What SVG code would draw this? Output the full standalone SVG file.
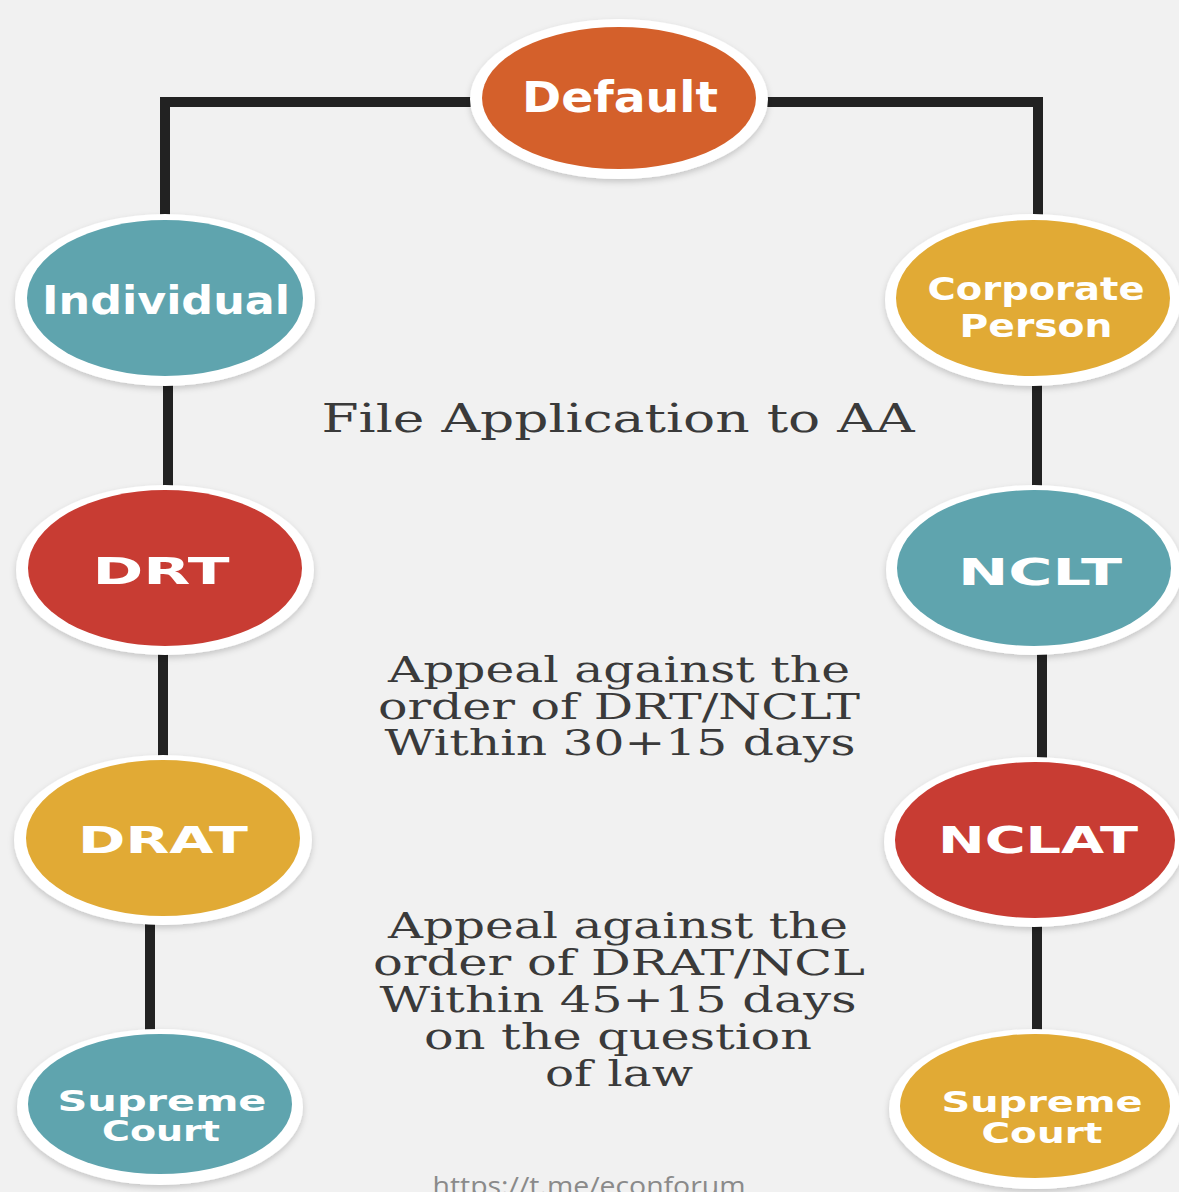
<svg xmlns="http://www.w3.org/2000/svg" width="1179" height="1192" viewBox="0 0 1179 1192">
<defs>
<filter id="sh" x="-10%" y="-10%" width="120%" height="125%">
<feDropShadow dx="0" dy="3" stdDeviation="3" flood-color="#000" flood-opacity="0.18"/>
</filter>
</defs>
<style>
.ring{fill:#ffffff;filter:url(#sh)}
.lbl{font-family:"DejaVu Sans","Liberation Sans",sans-serif;font-weight:bold;fill:#ffffff;text-anchor:middle}
.note{font-family:"DejaVu Serif","Liberation Serif",serif;fill:#3a3a3a;text-anchor:middle}
.conn line,.conn polyline{stroke:#222222;stroke-width:10;fill:none}
.orange{fill:#D4602B}.teal{fill:#5FA4AE}.red{fill:#C83C33}.gold{fill:#E1AA35}
</style>
<rect width="1179" height="1192" fill="#F1F1F1"/>
<g id="connectors" class="conn">
<polyline points="165,225 165,102 480,102"/>
<polyline points="760,102 1038,102 1038,225"/>
<line x1="168" y1="380" x2="168" y2="492"/>
<line x1="163" y1="648" x2="163" y2="762"/>
<line x1="150" y1="918" x2="150" y2="1040"/>
<line x1="1037" y1="380" x2="1037" y2="492"/>
<line x1="1042" y1="648" x2="1042" y2="762"/>
<line x1="1037" y1="918" x2="1037" y2="1040"/>
</g>
<g id="default">
<ellipse class="ring" cx="619" cy="99" rx="149" ry="80"/>
<ellipse class="orange" cx="619" cy="98" rx="137" ry="71"/>
<text class="lbl" x="620" y="112" font-size="43" textLength="196" lengthAdjust="spacingAndGlyphs">Default</text>
</g>
<g id="individual">
<ellipse class="ring" cx="165" cy="300" rx="150" ry="86"/>
<ellipse class="teal" cx="165" cy="298" rx="138" ry="78"/>
<text class="lbl" x="166" y="314" font-size="39" textLength="248" lengthAdjust="spacingAndGlyphs">Individual</text>
</g>
<g id="corporate">
<ellipse class="ring" cx="1033" cy="300" rx="148" ry="86"/>
<ellipse class="gold" cx="1033" cy="298" rx="137" ry="78"/>
<text class="lbl" x="1036" y="300" font-size="32" textLength="217" lengthAdjust="spacingAndGlyphs">Corporate</text>
<text class="lbl" x="1036" y="337" font-size="32" textLength="153" lengthAdjust="spacingAndGlyphs">Person</text>
</g>
<g id="drt">
<ellipse class="ring" cx="165" cy="570" rx="149" ry="85"/>
<ellipse class="red" cx="165" cy="568" rx="137" ry="78"/>
<text class="lbl" x="161" y="584" font-size="38" textLength="137" lengthAdjust="spacingAndGlyphs">DRT</text>
</g>
<g id="nclt">
<ellipse class="ring" cx="1034" cy="570" rx="148" ry="85"/>
<ellipse class="teal" cx="1034" cy="568" rx="137" ry="78"/>
<text class="lbl" x="1040" y="585" font-size="38" textLength="164" lengthAdjust="spacingAndGlyphs">NCLT</text>
</g>
<g id="drat">
<ellipse class="ring" cx="163" cy="840" rx="149" ry="85"/>
<ellipse class="gold" cx="163" cy="838" rx="137" ry="78"/>
<text class="lbl" x="163" y="853" font-size="38" textLength="170" lengthAdjust="spacingAndGlyphs">DRAT</text>
</g>
<g id="nclat">
<ellipse class="ring" cx="1034" cy="842" rx="150" ry="85"/>
<ellipse class="red" cx="1035" cy="840" rx="140" ry="78"/>
<text class="lbl" x="1038" y="853" font-size="38" textLength="200" lengthAdjust="spacingAndGlyphs">NCLAT</text>
</g>
<g id="sc-left">
<ellipse class="ring" cx="160" cy="1107" rx="143" ry="78"/>
<ellipse class="teal" cx="160" cy="1104" rx="132" ry="70"/>
<text class="lbl" x="162" y="1111" font-size="28" textLength="209" lengthAdjust="spacingAndGlyphs">Supreme</text>
<text class="lbl" x="161" y="1141" font-size="28" textLength="118" lengthAdjust="spacingAndGlyphs">Court</text>
</g>
<g id="sc-right">
<ellipse class="ring" cx="1035" cy="1109" rx="146" ry="80"/>
<ellipse class="gold" cx="1035" cy="1106" rx="135" ry="72"/>
<text class="lbl" x="1042" y="1112" font-size="28" textLength="201" lengthAdjust="spacingAndGlyphs">Supreme</text>
<text class="lbl" x="1042" y="1143" font-size="28" textLength="121" lengthAdjust="spacingAndGlyphs">Court</text>
</g>
<g id="label-file">
<text class="note" x="618" y="432" font-size="40" textLength="593" lengthAdjust="spacingAndGlyphs">File Application to AA</text>
</g>
<g id="label-appeal1" font-size="35">
<text class="note" x="619" y="682" textLength="462" lengthAdjust="spacingAndGlyphs">Appeal against the</text>
<text class="note" x="619" y="719" textLength="482" lengthAdjust="spacingAndGlyphs">order of DRT/NCLT</text>
<text class="note" x="620" y="755" textLength="471" lengthAdjust="spacingAndGlyphs">Within 30+15 days</text>
</g>
<g id="label-appeal2" font-size="35">
<text class="note" x="618" y="938" textLength="460" lengthAdjust="spacingAndGlyphs">Appeal against the</text>
<text class="note" x="619" y="975" textLength="492" lengthAdjust="spacingAndGlyphs">order of DRAT/NCL</text>
<text class="note" x="618" y="1012" textLength="477" lengthAdjust="spacingAndGlyphs">Within 45+15 days</text>
<text class="note" x="618" y="1049" textLength="388" lengthAdjust="spacingAndGlyphs">on the question</text>
<text class="note" x="619" y="1086" textLength="148" lengthAdjust="spacingAndGlyphs">of law</text>
</g>
<text x="589" y="1195" font-family="'Open Sans','Liberation Sans',sans-serif" font-size="25" fill="#8a8a8a" text-anchor="middle" textLength="313" lengthAdjust="spacingAndGlyphs">https://t.me/econforum</text>
</svg>
